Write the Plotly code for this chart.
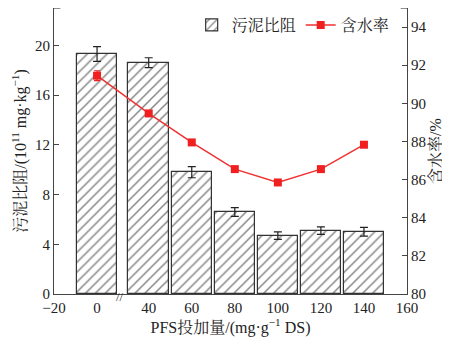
import plotly.graph_objects as go

# ---- data ----
dosage = [0, 40, 60, 80, 100, 120, 140]
srf = [19.3, 18.6, 9.8, 6.6, 4.7, 5.1, 5.0]          # 污泥比阻 (1e11 mg/kg)
srf_err = [0.6, 0.4, 0.45, 0.35, 0.3, 0.3, 0.35]
moisture = [91.45, 89.47, 87.95, 86.55, 85.85, 86.55, 87.83]  # 含水率 %
moisture_err = [0.26, 0.15, 0.12, 0.12, 0.12, 0.12, 0.12]
x_ticks = [-20, 0, 40, 60, 80, 100, 120, 140, 160]

# axis break: 0 -> 40 drawn as a shortened gap
BREAK_SHIFT = 16
def disp(v):
    return v if v <= 0 else v - BREAK_SHIFT

xd = [disp(v) for v in dosage]
FONT = "Liberation Serif, Noto Serif CJK SC, Noto Sans CJK SC, serif"

fig = go.Figure()
fig.add_trace(go.Bar(
    x=xd, y=srf, width=18.8, name="污泥比阻",
    marker=dict(color="white", line=dict(color="#333", width=1.2),
                pattern=dict(shape="/", size=7, solidity=0.22, fgcolor="#111", bgcolor="white")),
    error_y=dict(type="data", array=srf_err, color="#222", thickness=1.2, width=4),
))
fig.add_trace(go.Scatter(
    x=xd, y=moisture, name="含水率", yaxis="y2", mode="lines+markers",
    line=dict(color="#f03030", width=1.5),
    marker=dict(symbol="square", size=8, color="#f02020"),
    error_y=dict(type="data", array=moisture_err, color="#f02020", thickness=1.2, width=3),
))

# page body has an 8px margin, so the figure is sized/offset to fit the 450x343 window
fig.update_layout(
    width=442, height=335,
    margin=dict(l=46, r=43, t=0, b=49),
    plot_bgcolor="white", paper_bgcolor="white",
    font=dict(family=FONT, size=15, color="#222"),
    showlegend=True,
    legend=dict(orientation="h", x=0.39, y=1.0, xanchor="left", yanchor="top",
                font=dict(size=16, family=FONT), bgcolor="rgba(0,0,0,0)",
                itemwidth=30, tracegroupgap=0),
    bargap=0,
    xaxis=dict(range=[disp(-20), disp(160)], tickvals=[disp(v) for v in x_ticks],
               ticktext=[str(v).replace("-", "−") for v in x_ticks], automargin=False,
               showline=True, linecolor="#444", linewidth=1.2, ticks="", showgrid=False,
               zeroline=False, tickfont=dict(size=15),
               title=dict(text="PFS投加量/(mg·g<sup>−1</sup> DS)", font=dict(size=16), standoff=4)),
    yaxis=dict(range=[0, 23], tickvals=[0, 4, 8, 12, 16, 20], showline=True, linecolor="#444",
               linewidth=1.2, ticks="inside", ticklen=5, tickcolor="#444", showgrid=False,
               zeroline=False, tickfont=dict(size=15), automargin=False,
               title=dict(text="污泥比阻/(10<sup>11</sup> mg·kg<sup>−1</sup>)", font=dict(size=16), standoff=4)),
    yaxis2=dict(range=[80, 95], tickvals=[80, 82, 84, 86, 88, 90, 92, 94], overlaying="y", side="right",
                showline=True, linecolor="#444", linewidth=1.2, ticks="inside", ticklen=5,
                tickcolor="#444", showgrid=False, zeroline=False, tickfont=dict(size=15),
                automargin=False,
                title=dict(text="含水率/%", font=dict(size=16), standoff=4)),
)

# axis end caps at top
fig.add_shape(type="line", xref="paper", yref="paper", x0=0, x1=0.018, y0=1, y1=1,
              line=dict(color="#444", width=1.2))
fig.add_shape(type="line", xref="paper", yref="paper", x0=1, x1=0.982, y0=1, y1=1,
              line=dict(color="#444", width=1.2))
# axis break marker
fig.add_annotation(x=(disp(0) + disp(40)) / 2 - 1.5, y=0, xref="x", yref="y", text="//",
                   showarrow=False, font=dict(size=13, family=FONT, color="#333"), yshift=-2)

fig.write_html("out.html")
